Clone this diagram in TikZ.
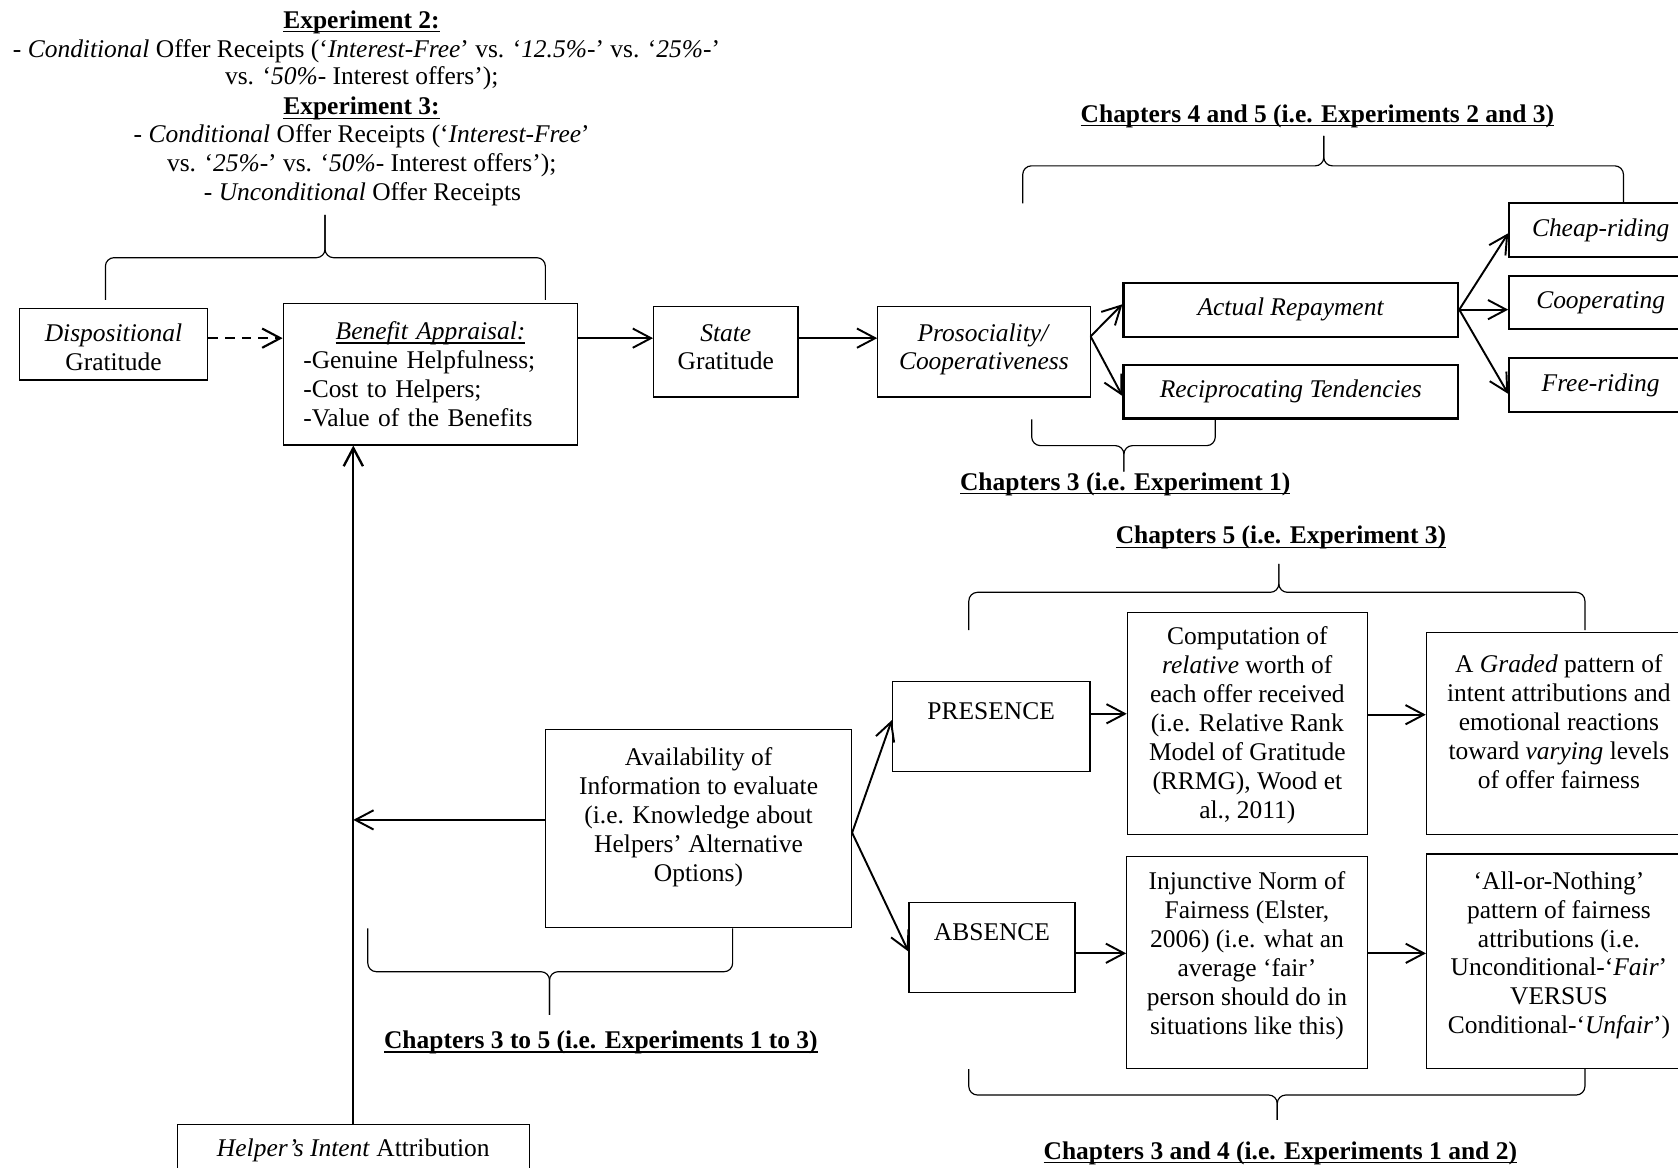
\documentclass[tikz,border=0pt]{standalone}
\usepackage{fontspec}
\setmainfont{Liberation Serif}
\usetikzlibrary{arrows.meta,calc}

% multi-line cell whose text can be lifted inside its frame
\newcommand\boxlines[2]{\raisebox{#1}[\height][\depth]{\begin{tabular}{@{}c@{}}#2\end{tabular}}}
% underline set at a fixed distance below the baseline
\newcommand\wordul[1]{\setbox0\hbox{#1}\rlap{\rule[-1.9pt]{\wd0}{0.6pt}}\box0}
% curly brace with long arms: x-left, x-right, y of arm ends, y of bar, y of tip, x of tip
\newcommand\wordbrace[6]{%
  \draw[bracestyle] (#1,#3) -- (#1,#4) -- (#6,#4) -- (#6,#5);
  \draw[bracestyle] (#2,#3) -- (#2,#4) -- (#6,#4) -- (#6,#5);}

\begin{document}
\begin{tikzpicture}[x=0.5pt,y=-0.5pt,
  every node/.append style={font=\fontsize{11.9}{13.5}\selectfont},
  plainbox/.style={draw, line width=0.5pt, inner sep=0pt},
  heavybox/.style={draw, line width=1pt, inner sep=0pt},
  arrow/.style={line width=0.9pt, -{Straight Barb[length=8.5pt,width=9pt]}},
  dasharrow/.style={arrow, line width=1pt, dash pattern=on 4.5pt off 3.3pt},
  bracestyle/.style={line width=0.55pt, rounded corners=4pt},
  lbl/.style={anchor=base, inner sep=0pt},
  lblw/.style={anchor=base west, inner sep=0pt}]

\useasboundingbox (0,0) rectangle (1568,1091);
\fill[white] (0,0) rectangle (1568,1091);
\clip (0,0) rectangle (1568,1091);

% ---------- experiment notes (top left) ----------
\node[lbl]  (exp2t) at (337.8,26.5) {\wordul{\textbf{Experiment 2:}}};
\node[lblw] (exp2a) at (11.7,53.3) {- \textit{Conditional} Offer Receipts (‘\textit{Interest-Free}’ vs. ‘\textit{12.5\%-}’ vs. ‘\textit{25\%-}’};
\node[lbl]  (exp2b) at (338,79.3) {vs. ‘\textit{50\%-} Interest offers’);};
\node[lbl]  (exp3t) at (337.8,107.3) {\wordul{\textbf{Experiment 3:}}};
\node[lbl]  (exp3a) at (338,133.3) {- \textit{Conditional} Offer Receipts (‘\textit{Interest-Free}’};
\node[lbl]  (exp3b) at (338,159.8) {vs. ‘\textit{25\%-}’ vs. ‘\textit{50\%-} Interest offers’);};
\node[lbl]  (exp3c) at (338.7,187.5) {- \textit{Unconditional} Offer Receipts};

% ---------- chapter labels ----------
\node[lbl] (ch45) at (1231,114.3) {\wordul{\textbf{Chapters 4 and 5 (i.e. Experiments 2 and 3)}}};
\node[lbl] (ch3)  at (1051.5,457.9) {\wordul{\textbf{Chapters 3 (i.e. Experiment 1)}}};
\node[lbl] (ch5)  at (1197,508.3) {\wordul{\textbf{Chapters 5 (i.e. Experiment 3)}}};
\node[lbl] (ch34) at (1196.4,1083.3) {\wordul{\textbf{Chapters 3 and 4 (i.e. Experiments 1 and 2)}}};
\node[lbl] (ch35) at (561.5,979.7) {\wordul{\textbf{Chapters 3 to 5 (i.e. Experiments 1 to 3)}}};

% ---------- upper chain ----------
\node[plainbox, minimum width=88.15pt, minimum height=33.5pt] (disp) at (106.05,321.6)
  {\boxlines{-3pt}{\textit{Dispositional}\\Gratitude}};
\node[plainbox, minimum width=137.7pt, minimum height=66.2pt, text width=118.9pt, align=left] (benefit) at (402.3,349.6)
  {\makebox[118.9pt][c]{\wordul{\textit{Benefit Appraisal:}}}\\-Genuine Helpfulness;\\-Cost to Helpers;\\-Value of the Benefits};
\node[plainbox, minimum width=67.5pt, minimum height=42.2pt] (state) at (678.2,328.8)
  {\boxlines{1pt}{\textit{State}\\Gratitude}};
\node[plainbox, minimum width=99.2pt, minimum height=42.2pt] (prosoc) at (919.4,328.8)
  {\boxlines{1pt}{\textit{Prosociality/}\\\textit{Cooperativeness}}};
\node[heavybox, minimum width=156.4pt, minimum height=25.25pt] (actual) at (1206.2,289.35) {\textit{Actual Repayment}};
\node[heavybox, minimum width=156.4pt, minimum height=25pt] (recip) at (1206.2,366) {\textit{Reciprocating Tendencies}};
\node[heavybox, minimum width=85.35pt, minimum height=24.95pt] (cheap) at (1495.7,214.95) {\textit{Cheap-riding}};
\node[heavybox, minimum width=85.35pt, minimum height=25.05pt] (coop) at (1495.7,282.65) {\textit{Cooperating}};
\node[heavybox, minimum width=85.35pt, minimum height=25.25pt] (free) at (1495.7,360.05) {\textit{Free-riding}};

% ---------- lower part ----------
\node[plainbox, minimum width=143pt, minimum height=92.65pt] (avail) at (652.75,774.15)
  {\boxlines{5pt}{Availability of\\Information to evaluate\\(i.e. Knowledge about\\Helpers’ Alternative\\Options)}};
\node[plainbox, minimum width=92.35pt, minimum height=42pt] (presence) at (926.15,679) {\boxlines{6.25pt}{PRESENCE}};
\node[plainbox, minimum width=77.55pt, minimum height=42pt] (absence) at (926.95,885.2) {\boxlines{5.75pt}{ABSENCE}};
\node[plainbox, minimum width=112.15pt, minimum height=103.65pt] (comput) at (1165.55,675.85)
  {\boxlines{-1.2pt}{Computation of\\\textit{relative} worth of\\each offer received\\(i.e. Relative Rank\\Model of Gratitude\\(RRMG), Wood et\\al., 2011)}};
\node[plainbox, minimum width=123.85pt, minimum height=94.4pt] (graded) at (1456.65,685.2)
  {\boxlines{4pt}{A \textit{Graded} pattern of\\intent attributions and\\emotional reactions\\toward \textit{varying} levels\\of offer fairness}};
\node[plainbox, minimum width=112.4pt, minimum height=98.85pt] (injunct) at (1165.2,899.35)
  {\boxlines{3pt}{Injunctive Norm of\\Fairness (Elster,\\2006) (i.e. what an\\average ‘fair’\\person should do in\\situations like this)}};
\node[plainbox, minimum width=123.75pt, minimum height=100.1pt] (allornot) at (1456.75,898.1)
  {\boxlines{2.5pt}{‘All-or-Nothing’\\pattern of fairness\\attributions (i.e.\\Unconditional-‘\textit{Fair}’\\VERSUS\\Conditional-‘\textit{Unfair}’)}};
\node[plainbox, minimum width=164.45pt, minimum height=49.7pt] (helper) at (330.15,1100.3)
  {\boxlines{12.6pt}{\textit{Helper’s Intent} Attribution}};

% ---------- connectors ----------
\coordinate (chainy) at ($(state.north west)!0.35!(state.south west)$);
\draw[dasharrow] (disp.east |- chainy) -- (benefit.west |- chainy);
\draw[arrow] (benefit.east |- chainy) -- (chainy);
\draw[arrow] (state.east |- chainy) -- (prosoc.west |- chainy);

\coordinate (fork1) at ($(prosoc.north east)!0.33!(prosoc.south east)$);
\draw[arrow] (fork1) -- ($(actual.west)+(0,-5)$);
\draw[arrow] (fork1) -- ($(recip.west)+(0,4)$);

\draw[arrow] (actual.east) -- ($(cheap.west)+(0,3)$);
\draw[arrow] (actual.east) -- (actual.east -| coop.west);
\draw[arrow] (actual.east) -- ($(free.west)+(0,8)$);

\draw[arrow, line width=1.1pt] (helper.north) -- (helper.north |- benefit.south);
\coordinate (availout) at ($(avail.west)+(0,-8)$);
\draw[arrow] (availout) -- (helper.north |- availout);

\coordinate (availfork) at ($(avail.east)+(0,4)$);
\draw[arrow] (availfork) -- ($(presence.west)+(0,-6)$);
\draw[arrow] (availfork) -- ($(absence.west)+(0,4)$);

\coordinate (presout) at ($(presence.east)+(0,-12)$);
\draw[arrow] (presout) -- (presout -| comput.west);
\coordinate (compout) at ($(comput.east)+(0,-8)$);
\draw[arrow] (compout) -- (compout -| graded.west);
\coordinate (absout) at ($(absence.east)+(0,5.6)$);
\draw[arrow] (absout) -- (absout -| injunct.west);
\coordinate (injout) at ($(injunct.east)+(0,-8.5)$);
\draw[arrow] (injout) -- (injout -| allornot.west);

% ---------- braces ----------
\wordbrace{98.5}{509.6}{280.3}{240.8}{200.9}{303.7}
\wordbrace{955.7}{1517}{190}{155}{127}{1237}
\wordbrace{964.1}{1135.6}{391.8}{416.4}{440.7}{1050.2}
\wordbrace{905.3}{1481}{588.7}{553.5}{527}{1195}
\wordbrace{905.3}{1481}{999}{1023.2}{1046.5}{1193.5}
\wordbrace{343.7}{684.6}{867.5}{908}{948.4}{513.5}

\end{tikzpicture}
\end{document}
